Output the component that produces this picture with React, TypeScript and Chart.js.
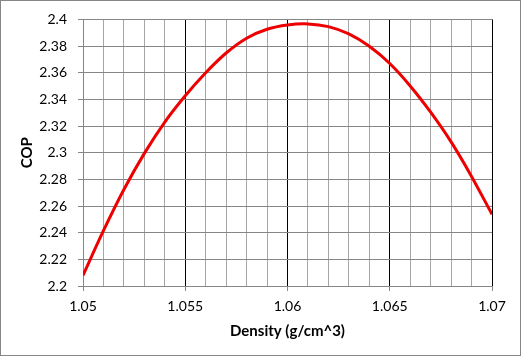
import React, { useEffect, useRef } from "react";
import { Chart, registerables } from "chart.js";

Chart.register(...registerables);

const DENSITY = [
  1.05, 1.051, 1.052, 1.053, 1.054, 1.055, 1.056, 1.057, 1.058, 1.059, 1.06,
  1.061, 1.062, 1.063, 1.064, 1.065, 1.066, 1.067, 1.068, 1.069, 1.07,
];
const COP = [
  2.208, 2.2415, 2.2724, 2.2995, 2.323, 2.3427, 2.36, 2.3748, 2.3859, 2.3926,
  2.3958, 2.3966, 2.3946, 2.3891, 2.3798, 2.3669, 2.3501, 2.3304, 2.3081,
  2.2822, 2.2538,
];
const X_GRID = [
  1.05, 1.051, 1.052, 1.053, 1.054, 1.055, 1.056, 1.057, 1.058, 1.059, 1.06,
  1.061, 1.062, 1.063, 1.064, 1.065, 1.066, 1.067, 1.068, 1.069, 1.07,
];
const X_TICK_LABELS = ["1.05", "1.055", "1.06", "1.065", "1.07"];
const Y_TICK_LABELS = [
  "2.2", "2.22", "2.24", "2.26", "2.28", "2.3", "2.32", "2.34", "2.36", "2.38", "2.4",
];
const X_TITLE = "Density (g/cm^3)";
const Y_TITLE = "COP";

const FONT = "Lato, 'Liberation Sans', sans-serif";
const AXIS_GRAY = "#868686";
const MINOR_GRAY = "#a6a6a6";

export default function App() {
  const ref = useRef<HTMLCanvasElement | null>(null);

  useEffect(() => {
    document.body.style.margin = "0";
    const canvas = ref.current;
    if (!canvas) return;

    const framePlugin = {
      id: "frame",
      beforeDraw(chart: any) {
        const c = chart.ctx;
        c.save();
        c.fillStyle = "#ffffff";
        c.fillRect(0, 0, chart.width, chart.height);
        c.strokeStyle = AXIS_GRAY;
        c.lineWidth = 1;
        c.strokeRect(0.5, 0.5, 520, 355);
        c.restore();
      },
    };

    const chart = new Chart(canvas, {
      type: "line",
      data: {
        datasets: [
          {
            data: DENSITY.map((x, i) => ({ x, y: COP[i] })),
            borderColor: "#ee0000",
            borderWidth: 3,
            pointRadius: 0,
            tension: 0.3,
            fill: false,
          },
        ],
      },
      options: {
        animation: false,
        responsive: false,
        devicePixelRatio: 1,
        layout: { padding: { top: 16, right: 30, left: 0, bottom: 0 } },
        plugins: {
          legend: { display: false },
          tooltip: { enabled: false },
        },
        scales: {
          x: {
            type: "linear",
            min: 1.05,
            max: 1.07,
            afterBuildTicks: (scale: any) => {
              scale.ticks = X_GRID.map((v) => ({ value: v }));
            },
            afterFit: (scale: any) => {
              scale.height = 71;
            },
            ticks: {
              autoSkip: false,
              maxRotation: 0,
              padding: 7,
              color: "#000",
              font: { family: FONT, size: 14 },
              callback: (_v: any, index: number) =>
                index % 5 === 0 ? X_TICK_LABELS[index / 5] : "",
            },
            grid: {
              color: (ctx: any) =>
                ctx.index === 0 ? AXIS_GRAY : ctx.index % 5 === 0 ? "#000000" : MINOR_GRAY,
              tickColor: (ctx: any) => (ctx.index % 5 === 0 ? AXIS_GRAY : "rgba(0,0,0,0)"),
              tickLength: 5,
              lineWidth: 1,
            },
            border: { display: true, color: AXIS_GRAY },
            title: {
              display: true,
              text: X_TITLE,
              color: "#000",
              font: { family: FONT, size: 15, weight: "bold", lineHeight: 1.2 },
              padding: { top: 0, bottom: 17 },
            },
          },
          y: {
            type: "linear",
            min: 2.2,
            max: 2.4,
            afterBuildTicks: (scale: any) => {
              scale.ticks = Y_TICK_LABELS.map((t) => ({ value: parseFloat(t) }));
            },
            afterFit: (scale: any) => {
              scale.width = 83;
            },
            ticks: {
              autoSkip: false,
              padding: 11,
              color: "#000",
              font: { family: FONT, size: 14 },
              callback: (_v: any, index: number) => Y_TICK_LABELS[index],
            },
            grid: {
              color: AXIS_GRAY,
              tickColor: AXIS_GRAY,
              tickLength: 5,
              lineWidth: 1,
            },
            border: { display: true, color: AXIS_GRAY },
            title: {
              display: true,
              text: Y_TITLE,
              color: "#000",
              font: { family: FONT, size: 15, weight: "bold", lineHeight: 1.2 },
              padding: { top: 18, bottom: 0 },
            },
          },
        },
      },
      plugins: [framePlugin],
    } as any);

    return () => chart.destroy();
  }, []);

  return (
    <div style={{ width: 522, height: 357 }}>
      <canvas ref={ref} width={522} height={357} style={{ display: "block" }} />
    </div>
  );
}
